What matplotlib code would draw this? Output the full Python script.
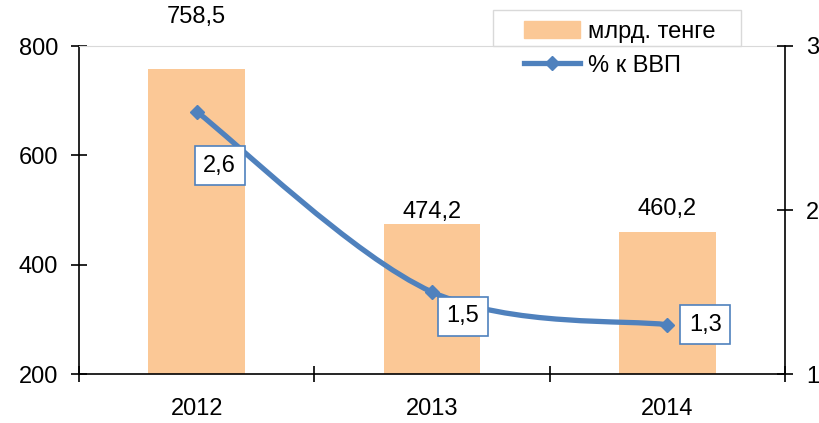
import numpy as np
import matplotlib
matplotlib.use("Agg")
import matplotlib.pyplot as plt
from matplotlib.path import Path
from matplotlib.patches import PathPatch, Rectangle
from matplotlib.lines import Line2D

plt.rcParams['font.family'] = ['Liberation Sans', 'DejaVu Sans']

# данные
years = ['2012', '2013', '2014']
bln_tenge = [758.5, 474.2, 460.2]
pct_gdp = [2.6, 1.5, 1.3]
bar_labels = ['758,5', '474,2', '460,2']
pct_labels = ['2,6', '1,5', '1,3']

bar_color = '#FBC896'
line_color = '#4F81BD'
fs = 17

fig = plt.figure(figsize=(8.19, 4.23), dpi=100)
ax = fig.add_axes([79 / 819, 1 - 374 / 423, (785 - 79) / 819, (374 - 46) / 423])
ax2 = ax.twinx()

x = np.arange(len(years))
ax.bar(x, bln_tenge, width=0.41, color=bar_color, zorder=2)
ax.set_xlim(-0.5, 2.5)
ax.set_ylim(200, 800)
ax.set_yticks([200, 400, 600, 800])
ax.tick_params(axis='y', direction='inout', length=12, width=1.2, labelsize=fs, pad=9)
ax.set_xticks(x)
ax.set_xticklabels(years)
ax.set_xticks([-0.5, 0.5, 1.5, 2.5], minor=True)
ax.tick_params(axis='x', which='major', length=0, labelsize=fs, pad=17)
ax.tick_params(axis='x', which='minor', direction='inout', length=12, width=1.2)

for s in ['left', 'bottom']:
    ax.spines[s].set_linewidth(1.2)
ax.spines['top'].set_color('#d9d9d9')
ax.spines['right'].set_visible(False)
ax2.spines['top'].set_visible(False)
ax2.spines['left'].set_visible(False)
ax2.spines['bottom'].set_visible(False)
ax2.spines['right'].set_linewidth(1.2)

ax2.set_ylim(1, 3)
ax2.set_yticks([1, 2, 3])
ax2.tick_params(axis='y', direction='inout', length=12, width=1.2, labelsize=fs, pad=9)

# сглаженная линия (Безье через точки)
pts = np.column_stack([x, pct_gdp]).astype(float)
verts = [pts[0]]
codes = [Path.MOVETO]
n = len(pts)
for i in range(n - 1):
    p0 = pts[max(i - 1, 0)]
    p1 = pts[i]
    p2 = pts[i + 1]
    p3 = pts[min(i + 2, n - 1)]
    c1 = p1 + (p2 - p0) / 6
    c2 = p2 - (p3 - p1) / 6
    verts += [c1, c2, p2]
    codes += [Path.CURVE4] * 3
ax2.add_patch(PathPatch(Path(verts, codes), fill=False, edgecolor=line_color,
                        lw=3.8, capstyle='round', zorder=3))
ax2.plot(x, pct_gdp, linestyle='none', marker='D', ms=7, color=line_color, zorder=4)

# подписи столбцов
bar_offsets = [52, 12, 23]
for xi, v, lab, off in zip(x, bln_tenge, bar_labels, bar_offsets):
    ax.annotate(lab, (xi, v), xytext=(0, off), textcoords='offset pixels',
                ha='center', va='center', fontsize=fs, zorder=5)

# подписи линии
pct_offsets = [(23, -54), (31, -24), (38, 0)]
for xi, v, lab, off in zip(x, pct_gdp, pct_labels, pct_offsets):
    ax2.annotate(lab, (xi, v), xytext=off, textcoords='offset pixels',
                 ha='center', va='center', fontsize=fs, zorder=6,
                 bbox=dict(boxstyle='square,pad=0.36', fc='white', ec=line_color, lw=1.2))

# легенда
fig.patches.append(Rectangle((493 / 819, 1 - 46 / 423), (741 - 493) / 819, 36 / 423,
                             transform=fig.transFigure, fill=False, ec='#d9d9d9', lw=1))
handles = [Rectangle((0, 0), 1, 1, color=bar_color),
           Line2D([], [], color=line_color, lw=3.8, marker='D', ms=7)]
fig.legend(handles, ['млрд. тенге', '% к ВВП'], loc='upper left',
           bbox_to_anchor=(512 / 819, 1 - 9 / 423), frameon=False, fontsize=fs,
           handlelength=2.4, handleheight=0.7, labelspacing=0.5, borderpad=0,
           handletextpad=0.3)

fig.savefig('out.png', dpi=100)
